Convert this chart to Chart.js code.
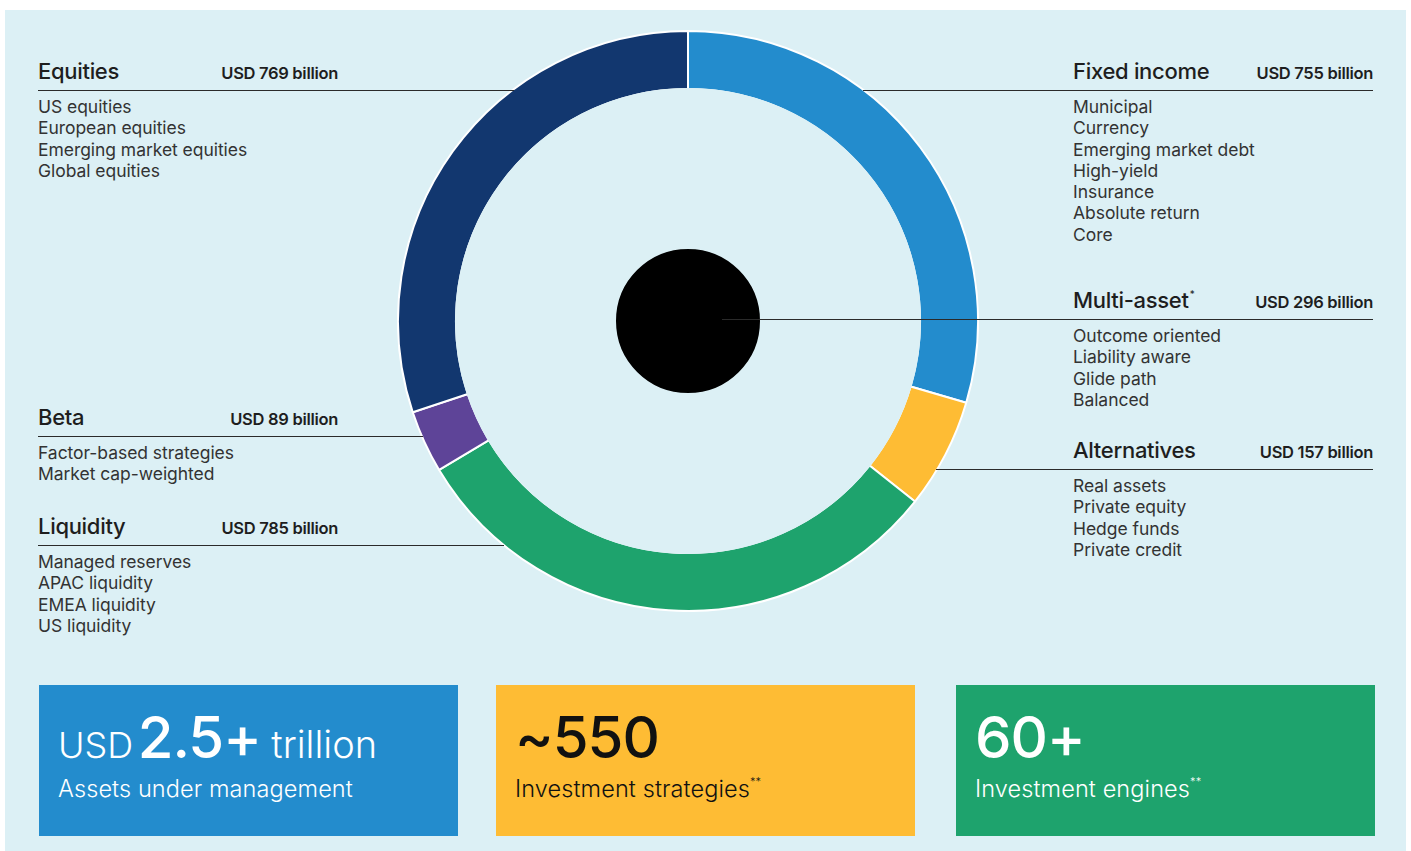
<!DOCTYPE html>
<html>
<head>
<meta charset="utf-8">
<title>Assets under management</title>
<script src="https://cdn.jsdelivr.net/npm/chart.js@4.4.1/dist/chart.umd.min.js"></script>
<style>
  html, body { margin: 0; padding: 0; background: #fff; }
  body { width: 1411px; height: 851px; position: relative; overflow: hidden; font-family: Inter, "Noto Sans", sans-serif; color: #222; }
  #panel { position: absolute; left: 5px; top: 10px; width: 1401px; height: 841px; background: #dcf0f5; }
  #ringBox { position: absolute; left: 397px; top: 30px; width: 582px; height: 582px; }
  .rule { position: absolute; height: 1px; background: #2a2a2a; }
  .block { position: absolute; width: 300px; }
  .head { display: flex; justify-content: space-between; align-items: baseline; height: 24px; line-height: 24px; }
  .head .name { font-size: 22px; font-weight: 500; letter-spacing: -0.3px; color: #1e1e1e; }
  .head .name sup { font-size: 10px; font-weight: 400; vertical-align: baseline; position: relative; top: -10px; margin-left: 1px; }
  .head .amount { font-size: 16.5px; font-weight: 600; letter-spacing: -0.3px; color: #1e1e1e; }
  .items { position: absolute; left: 0; font-size: 17.5px; line-height: 21.3px; color: #333; letter-spacing: -0.05px; white-space: nowrap; }
  .card { position: absolute; top: 685px; width: 419px; height: 151px; }
  .card .figure { position: absolute; left: 19px; top: 22px; line-height: 60px; white-space: nowrap; }
  .card .figure .unit { font-size: 36px; font-weight: 300; }
  .card .figure .suffix { font-size: 38px; margin-left: 6px; }
  .card .figure .num { font-size: 58px; font-weight: 500; letter-spacing: -1px; }
  .card .caption { position: absolute; left: 19px; top: 91px; font-size: 23.5px; font-weight: 300; line-height: 26px; white-space: nowrap; letter-spacing: 0.1px; }
  .card .caption sup { font-size: 11px; vertical-align: baseline; position: relative; top: -11px; }
</style>
</head>
<body>
<div id="panel"></div>
<div id="ringBox"><canvas id="ringChart"></canvas></div>
<div id="labels"></div>
<div id="cards"></div>
<script>
// asset classes shown around the ring
const categories = ["Equities", "Fixed income", "Multi-asset", "Beta", "Alternatives", "Liquidity"];
const amounts = [769, 755, 296, 89, 157, 785]; // USD billion
const notes = ["", "", "*", "", "", ""];
const subItems = [
  ["US equities", "European equities", "Emerging market equities", "Global equities"],
  ["Municipal", "Currency", "Emerging market debt", "High-yield", "Insurance", "Absolute return", "Core"],
  ["Outcome oriented", "Liability aware", "Glide path", "Balanced"],
  ["Factor-based strategies", "Market cap-weighted"],
  ["Real assets", "Private equity", "Hedge funds", "Private credit"],
  ["Managed reserves", "APAC liquidity", "EMEA liquidity", "US liquidity"]
];

// ring segments, clockwise from the top; multi-asset sits in the centre
const ringCategories = ["Fixed income", "Alternatives", "Liquidity", "Beta", "Equities"];
const ringValues = [755, 157, 785, 89, 769];
const centerCategory = "Multi-asset";
const centerValues = [296];

// headline figures
const figureUnits = ["USD", "", ""];
const figureNumbers = ["2.5+", "~550", "60+"];
const figureSuffixes = ["trillion", "", ""];
const figureCaptions = ["Assets under management", "Investment strategies", "Investment engines"];
const figureNotes = ["", "**", "**"];

// styling / layout (kept apart from the data)
const panelColor = "#dcf0f5";
const segmentColors = {
  "Fixed income": "#238ccd",
  "Alternatives": "#febc34",
  "Liquidity": "#1ea36d",
  "Beta": "#5e4498",
  "Equities": "#12376f"
};
const blockLayout = {
  "Equities":     { x: 38,   lineY: 90,  lineFrom: 38,  lineTo: 514 },
  "Fixed income": { x: 1073, lineY: 90,  lineFrom: 863, lineTo: 1373 },
  "Multi-asset":  { x: 1073, lineY: 319, lineFrom: 722, lineTo: 1373 },
  "Beta":         { x: 38,   lineY: 436, lineFrom: 38,  lineTo: 423 },
  "Alternatives": { x: 1073, lineY: 469, lineFrom: 936, lineTo: 1373 },
  "Liquidity":    { x: 38,   lineY: 545, lineFrom: 38,  lineTo: 504 }
};
const cardLayout = [
  { x: 39,  bg: "#238ccd", fg: "#ffffff" },
  { x: 496, bg: "#febc34", fg: "#111111" },
  { x: 956, bg: "#1ea36d", fg: "#ffffff" }
];

function buildLabels() {
  const holder = document.getElementById("labels");
  categories.forEach((name, i) => {
    const pos = blockLayout[name];
    const block = document.createElement("div");
    block.className = "block";
    block.style.left = pos.x + "px";
    block.style.top = (pos.lineY - 31) + "px";
    const sup = notes[i] ? `<sup>${notes[i]}</sup>` : "";
    block.innerHTML = `
      <div class="head"><span class="name">${name}${sup}</span><span class="amount">USD ${amounts[i]} billion</span></div>
      <div class="items" style="top:37px">${subItems[i].join("<br>")}</div>
    `;
    holder.appendChild(block);

    const rule = document.createElement("div");
    rule.className = "rule";
    rule.style.left = pos.lineFrom + "px";
    rule.style.top = pos.lineY + "px";
    rule.style.width = (pos.lineTo - pos.lineFrom) + "px";
    holder.appendChild(rule);
  });
}

function buildCards() {
  const holder = document.getElementById("cards");
  figureNumbers.forEach((num, i) => {
    const lay = cardLayout[i];
    const card = document.createElement("div");
    card.className = "card";
    card.style.left = lay.x + "px";
    card.style.background = lay.bg;
    card.style.color = lay.fg;
    const unit = figureUnits[i] ? `<span class="unit">${figureUnits[i]}</span> ` : "";
    const suffix = figureSuffixes[i] ? ` <span class="unit suffix">${figureSuffixes[i]}</span>` : "";
    const note = figureNotes[i] ? `<sup>${figureNotes[i]}</sup>` : "";
    card.innerHTML = `
      <div class="figure">${unit}<span class="num">${num}</span>${suffix}</div>
      <div class="caption">${figureCaptions[i]}${note}</div>
    `;
    holder.appendChild(card);
  });
}

function createRing() {
  const ctx = document.getElementById("ringChart").getContext("2d");
  new Chart(ctx, {
    type: "doughnut",
    data: {
      labels: ringCategories,
      datasets: [
        {
          label: "Assets",
          data: ringValues,
          backgroundColor: ringCategories.map(c => segmentColors[c]),
          borderColor: "#ffffff",
          borderWidth: 2,
          weight: 58
        },
        {
          // empty band between ring and centre, drawn last to hide the inner white edge
          label: "gap",
          data: [1],
          backgroundColor: panelColor,
          borderColor: panelColor,
          borderWidth: 2,
          weight: 159,
          order: -1
        },
        {
          label: centerCategory,
          data: centerValues,
          backgroundColor: "#000000",
          borderWidth: 0,
          weight: 73
        }
      ]
    },
    options: {
      responsive: true,
      maintainAspectRatio: false,
      animation: false,
      cutout: 0,
      events: [],
      layout: { padding: 0 },
      plugins: {
        legend: { display: false },
        tooltip: { enabled: false }
      }
    }
  });
}

document.addEventListener("DOMContentLoaded", function() {
  buildLabels();
  buildCards();
  createRing();
});
</script>
</body>
</html>
